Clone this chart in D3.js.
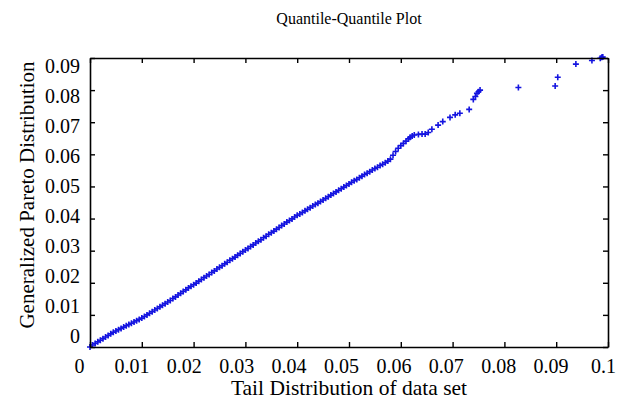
<!DOCTYPE html>
<html>
<head>
<meta charset="utf-8">
<script src="https://cdn.jsdelivr.net/npm/d3@7"></script>
<style>
  html, body { margin: 0; padding: 0; background: #fff; }
  text { font-family: "Liberation Serif", "Times New Roman", serif; fill: #000; }
</style>
</head>
<body>
<svg id="chart" width="618" height="402"></svg>
<script>
// ---- data ----
const chartTitle = "Quantile-Quantile Plot";
const xTitle = "Tail Distribution of data set";
const yTitle = "Generalized Pareto Distribution";

const xTicks = [0, 0.01, 0.02, 0.03, 0.04, 0.05, 0.06, 0.07, 0.08, 0.09, 0.1];
const xTickLabels = ["0", "0.01", "0.02", "0.03", "0.04", "0.05", "0.06", "0.07", "0.08", "0.09", "0.1"];
const yTicks = [0, 0.01, 0.02, 0.03, 0.04, 0.05, 0.06, 0.07, 0.08, 0.09];
const yTickLabels = ["0", "0.01", "0.02", "0.03", "0.04", "0.05", "0.06", "0.07", "0.08", "0.09"];

// sample quantiles (x) of the tail data set
const tailQuantiles = [
  0.0000,0.0005,0.0010,0.0015,0.0020,0.0025,0.0030,0.0035,0.0040,0.0045,
  0.0050,0.0055,0.0060,0.0065,0.0070,0.0075,0.0080,0.0085,0.0090,0.0095,
  0.0100,0.0105,0.0110,0.0115,0.0120,0.0125,0.0130,0.0135,0.0140,0.0145,
  0.0150,0.0155,0.0160,0.0165,0.0170,0.0175,0.0180,0.0185,0.0190,0.0195,
  0.0200,0.0205,0.0210,0.0215,0.0220,0.0225,0.0230,0.0235,0.0240,0.0245,
  0.0250,0.0255,0.0260,0.0265,0.0270,0.0275,0.0280,0.0285,0.0290,0.0295,
  0.0300,0.0305,0.0310,0.0315,0.0320,0.0325,0.0330,0.0335,0.0340,0.0345,
  0.0350,0.0355,0.0360,0.0365,0.0370,0.0375,0.0380,0.0385,0.0390,0.0395,
  0.0400,0.0405,0.0410,0.0415,0.0420,0.0425,0.0430,0.0435,0.0440,0.0445,
  0.0450,0.0455,0.0460,0.0465,0.0470,0.0475,0.0480,0.0485,0.0490,0.0495,
  0.0500,0.0505,0.0510,0.0515,0.0520,0.0525,0.0530,0.0535,0.0540,0.0545,
  0.0550,0.0555,0.0560,0.0565,0.0570,0.0575,0.0580,0.0585,0.0590,0.0595,
  0.0600,0.0605,0.0610,0.0615,0.0618,0.0622,0.0626,
  0.0634,0.0641,0.0647,0.0653,0.0660,0.0672,0.0681,0.0695,0.0705,0.0714,
  0.0732,0.0740,0.0744,0.0747,0.0750,0.0753,0.0827,0.0898,0.0903,0.0938,
  0.0969,0.0985,0.0988,0.0990
];
// matching Generalized Pareto quantiles (y)
const gpdQuantiles = [
  0.0000,0.0006,0.0011,0.0016,0.0021,0.0026,0.0031,0.0036,0.0041,0.0046,
  0.0050,0.0054,0.0058,0.0062,0.0066,0.0070,0.0074,0.0078,0.0082,0.0086,
  0.0090,0.0095,0.0100,0.0105,0.0110,0.0115,0.0120,0.0125,0.0130,0.0135,
  0.0140,0.0145,0.0151,0.0156,0.0162,0.0167,0.0173,0.0178,0.0184,0.0189,
  0.0194,0.0199,0.0205,0.0210,0.0216,0.0221,0.0226,0.0232,0.0237,0.0243,
  0.0248,0.0253,0.0259,0.0264,0.0270,0.0275,0.0280,0.0286,0.0291,0.0297,
  0.0302,0.0307,0.0313,0.0318,0.0324,0.0329,0.0334,0.0340,0.0345,0.0351,
  0.0356,0.0361,0.0367,0.0372,0.0378,0.0383,0.0389,0.0394,0.0399,0.0405,
  0.0410,0.0414,0.0419,0.0424,0.0429,0.0434,0.0439,0.0444,0.0448,0.0453,
  0.0458,0.0463,0.0468,0.0473,0.0478,0.0483,0.0488,0.0493,0.0498,0.0503,
  0.0508,0.0513,0.0518,0.0522,0.0527,0.0532,0.0537,0.0541,0.0546,0.0551,
  0.0556,0.0560,0.0565,0.0569,0.0574,0.0579,0.0585,0.0597,0.0609,0.0619,
  0.0627,0.0634,0.0641,0.0648,0.0653,0.0657,0.0660,
  0.0662,0.0663,0.0663,0.0668,0.0678,0.0691,0.0702,0.0715,0.0723,0.0728,
  0.0740,0.0771,0.0780,0.0790,0.0795,0.0800,0.0808,0.0813,0.0840,0.0881,
  0.0892,0.0899,0.0902,0.0903
];

// ---- drawing ----
const svg = d3.select("#chart");
svg.append("rect").attr("width", 618).attr("height", 402).attr("fill", "#fff");

const plot = { left: 90, right: 608, top: 58, bottom: 347 };

const x = d3.scaleLinear().domain([0, 0.1]).range([plot.left, plot.right]);
const y = d3.scaleLinear().domain([0, 0.09]).range([plot.bottom, plot.top]);
// tick labels in the reference sit slightly off the tick marks
const xLab = d3.scaleLinear().domain([0, 0.1]).range([79, 603]);
const yLab = d3.scaleLinear().domain([0, 0.09]).range([336, 66]);

const points = tailQuantiles.map((v, i) => ({ x: v, y: gpdQuantiles[i] }));

// markers ("+")
const s = 3;
svg.append("g")
  .selectAll("path")
  .data(points)
  .join("path")
  .attr("d", d => {
    const cx = x(d.x), cy = y(d.y);
    return `M${cx - s},${cy}H${cx + s}M${cx},${cy - s}V${cy + s}`;
  })
  .attr("stroke", "#1414e0")
  .attr("stroke-width", 1.6)
  .attr("fill", "none");

// inward ticks on all four sides
const tickLen = 5;
const axBottom = svg.append("g").attr("transform", `translate(0,${plot.bottom})`)
  .call(d3.axisTop(x).tickValues(xTicks).tickSize(tickLen).tickSizeOuter(0).tickFormat(""));
const axTop = svg.append("g").attr("transform", `translate(0,${plot.top})`)
  .call(d3.axisBottom(x).tickValues(xTicks).tickSize(tickLen).tickSizeOuter(0).tickFormat(""));
const axLeft = svg.append("g").attr("transform", `translate(${plot.left},0)`)
  .call(d3.axisRight(y).tickValues(yTicks).tickSize(tickLen).tickSizeOuter(0).tickFormat(""));
const axRight = svg.append("g").attr("transform", `translate(${plot.right},0)`)
  .call(d3.axisLeft(y).tickValues(yTicks).tickSize(tickLen).tickSizeOuter(0).tickFormat(""));
[axBottom, axTop, axLeft, axRight].forEach(g => {
  g.select(".domain").attr("stroke", "#000").attr("stroke-width", 1.6);
  g.selectAll(".tick line").attr("stroke", "#000").attr("stroke-width", 1.4);
});

// tick labels
const xLabAxis = svg.append("g").attr("transform", `translate(0,${plot.bottom})`)
  .call(d3.axisBottom(xLab).tickValues(xTicks).tickSize(0).tickPadding(12)
    .tickFormat((d, i) => xTickLabels[i]));
xLabAxis.select(".domain").remove();
xLabAxis.selectAll("text").attr("font-size", 20).attr("font-family", "Liberation Serif").attr("fill", "#000");

const yLabAxis = svg.append("g").attr("transform", `translate(80,0)`)
  .call(d3.axisLeft(yLab).tickValues(yTicks).tickSize(0).tickPadding(0)
    .tickFormat((d, i) => yTickLabels[i]));
yLabAxis.select(".domain").remove();
yLabAxis.selectAll("text").attr("font-size", 20).attr("font-family", "Liberation Serif").attr("fill", "#000");

// titles
svg.append("text")
  .attr("x", (plot.left + plot.right) / 2).attr("y", 24)
  .attr("text-anchor", "middle").attr("font-size", 16)
  .text(chartTitle);

svg.append("text")
  .attr("x", (plot.left + plot.right) / 2).attr("y", 395)
  .attr("text-anchor", "middle").attr("font-size", 21.5)
  .text(xTitle);

svg.append("text")
  .attr("transform", `translate(34,195) rotate(-90)`)
  .attr("text-anchor", "middle").attr("font-size", 21)
  .text(yTitle);
</script>
</body>
</html>
